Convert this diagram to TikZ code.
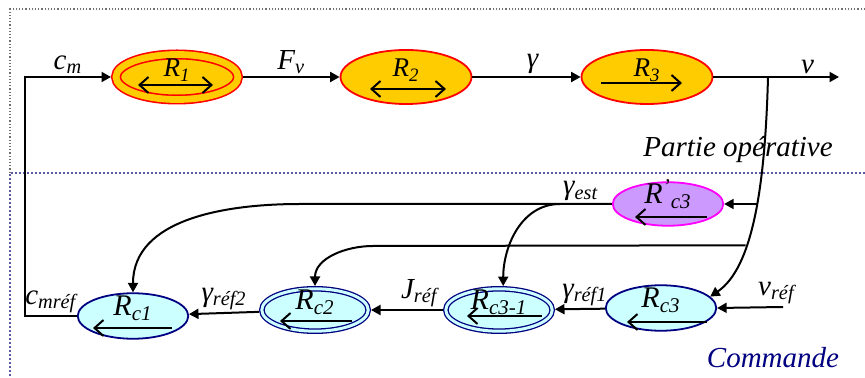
\documentclass[tikz,border=0pt]{standalone}
\usepackage{fontspec}
\setmainfont{Liberation Serif}
\usepackage{tikz}
\usetikzlibrary{positioning}
\usetikzlibrary{calc}
\usetikzlibrary{shapes.geometric}
\usetikzlibrary{arrows.meta}

\definecolor{opfill}{HTML}{FFCC00}
\definecolor{cmdfill}{HTML}{CCFFFF}
\definecolor{cmdline}{HTML}{000080}
\definecolor{estfill}{HTML}{CC99FF}
\definecolor{estline}{HTML}{FF00FF}
\definecolor{boxgray}{HTML}{707070}
\definecolor{boxblue}{HTML}{5A5AA0}

\tikzset{
    tri/.tip={Triangle[length=4.75pt,width=5pt]},
    barb/.tip={Straight Barb[length=4.5pt,width=8pt]},
}

\begin{document}
\begin{tikzpicture}[x=0.5pt, y=-0.5pt,
    wire/.style={line width=1pt},
    conn/.style={wire, -{tri}},
    inarrow/.style={line width=1pt, -{barb}},
    elab/.style={inner sep=1pt, font=\itshape\fontsize{14.5}{16}\selectfont},
    bloc/.style={ellipse, inner sep=0pt, line width=0.9pt, text height=6pt, text depth=6pt},
    opbloc/.style={bloc, draw=red, fill=opfill, minimum width=65.5pt, minimum height=27pt, font=\itshape\fontsize{13.5}{15}\selectfont},
    cmdbloc/.style={bloc, draw=cmdline, fill=cmdfill, minimum width=55.25pt, minimum height=22.75pt, font=\itshape\fontsize{15}{17}\selectfont},
    cmddouble/.style={cmdbloc, line width=0.65pt, double=cmdfill, double distance=1.5pt, outer sep=1.4pt, minimum width=53.2pt, minimum height=21.2pt},
]
    \useasboundingbox (0,0) rectangle (865,378);

    \draw[boxgray, densely dotted, line width=0.6pt] (865,9) -- (10,9) -- (10,173);
    \draw[boxblue, densely dotted, line width=1pt] (865,173) -- (10,173) -- (10,378);

    \node[opbloc, line width=0.8pt, double=opfill, double distance=3.4pt, outer sep=2.5pt, minimum width=61pt, minimum height=22.5pt] (R1) at (177,77) {R\textsubscript{1}};
    \node[opbloc] (R2) at (406,77) {R\textsubscript{2}};
    \node[opbloc] (R3) at (647,77) {R\textsubscript{3}};

    \node[cmdbloc] (Rc1) at (133,316) {R\textsubscript{c1}};
    \node[cmddouble] (Rc2) at (315,310) {R\textsubscript{c2}};
    \node[cmddouble] (Rc31) at (499,310) {R\textsubscript{c3-1}};
    \node[cmdbloc] (Rc3) at (661,308) {R\textsubscript{c3}};
    \node[cmdbloc, draw=estline, fill=estfill, minimum height=21.75pt] (Rpc3) at (668,204) {R\textsuperscript{’}\textsubscript{c3}};

    \draw[inarrow, {barb}-{barb}] ($(R1)+(-39,8)$) -- ($(R1)+(36,8)$);
    \draw[inarrow, {barb}-{barb}] ($(R2)+(-36,12)$) -- ($(R2)+(40,12)$);
    \draw[inarrow] ($(R3)+(-46,6)$) -- ($(R3)+(35,6)$);
    \draw[inarrow] ($(Rc1)+(39,12)$) -- ($(Rc1)+(-40,12)$);
    \draw[inarrow] ($(Rc2)+(37,11)$) -- ($(Rc2)+(-35,11)$);
    \draw[inarrow] ($(Rc31)+(43,6)$) -- ($(Rc31)+(-32,6)$);
    \draw[inarrow] ($(Rc3)+(46,14)$) -- ($(Rc3)+(-34,14)$);
    \draw[inarrow] ($(Rpc3)+(39,13)$) -- ($(Rpc3)+(-33,13)$);

    \coordinate (vsplit) at (768,77);
    \coordinate (vout) at (839,77);
    \coordinate (vref) at (783,307);
    \coordinate (estc) at (300,204);
    \coordinate (estb) at (560,204);
    \coordinate (vc) at (373,246);

    \draw[conn] (Rc1.west) -- node[elab, above]{c\textsubscript{mréf}} ++(-52,0) |- node[elab, pos=0.75, above]{c\textsubscript{m}} (R1.west);
    \draw[conn] (R1) -- node[elab, above]{F\textsubscript{v}} (R2);
    \draw[conn] (R2) -- node[elab, above, xshift=3pt]{γ} (R3);
    \draw[conn] (R3) -- (vsplit) -- node[elab, above, xshift=2pt]{v} (vout);

    \draw[conn] (vsplit) .. controls (765,190) and (752,268) .. (Rc3.13)
        coordinate[pos=0.43] (b1) coordinate[pos=0.63] (b2);
    \draw[conn] (b1 |- Rpc3) -- (Rpc3.east);
    \draw[conn] (b2) -- (vc) to[out=180, in=90] (Rc2.north);

    \draw[conn] (Rpc3.west) -- node[elab, pos=0.1, above]{γ\textsubscript{est}} (estc) to[out=180, in=90] (Rc1.north);
    \draw[conn] (estb) to[out=180, in=90] (Rc31.80);

    \draw[conn] (vref) -- node[elab, pos=0.1, above]{v\textsubscript{réf}} (Rc3.east);
    \draw[conn] (Rc3) -- node[elab, pos=0.4, above]{γ\textsubscript{réf1}} (Rc31);
    \draw[conn] (Rc31) -- node[elab, pos=0.33, above]{J\textsubscript{réf}} (Rc2);
    \draw[conn] (Rc2) -- node[elab, above]{γ\textsubscript{réf2}} (Rc1);

    \node[font=\itshape\fontsize{14.5}{16}\selectfont] (po) at (738,150) {Partie opérative};
    \node[font=\itshape\fontsize{14.5}{16}\selectfont, text=cmdline] (cmd) at (773,358) {Commande};
\end{tikzpicture}
\end{document}
